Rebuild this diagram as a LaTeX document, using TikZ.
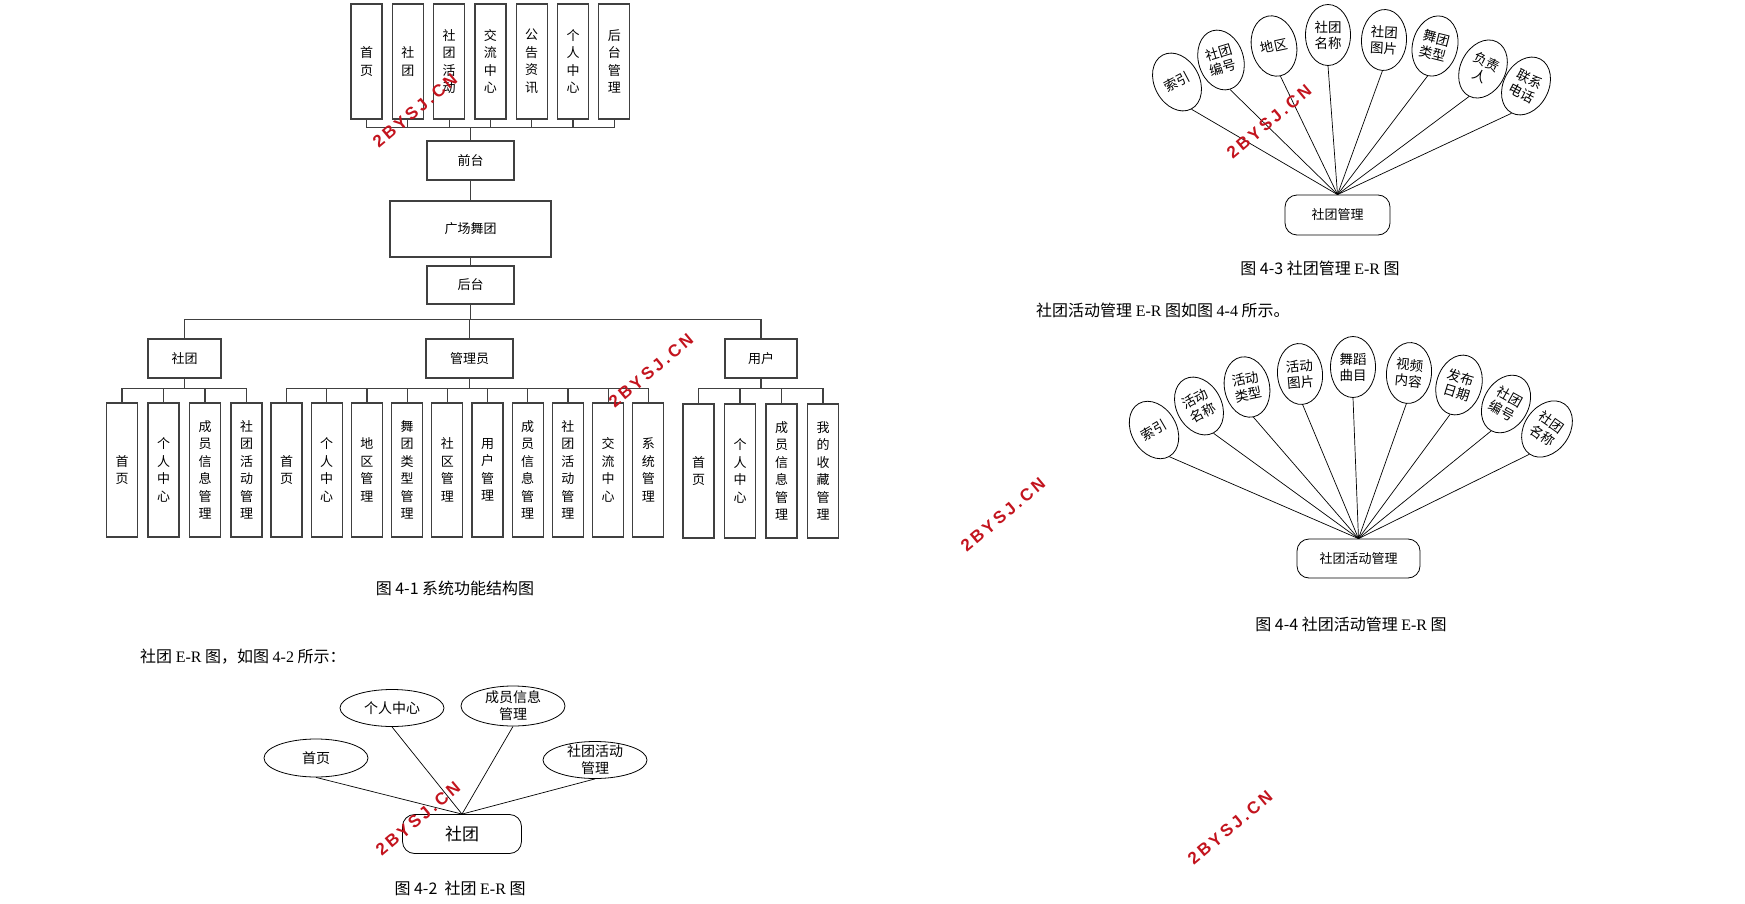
\documentclass[tikz,border=0pt]{standalone}
\usepackage{fontspec}
\usetikzlibrary{shapes.geometric}
\setmainfont{Noto Sans CJK SC}
\newfontfamily\latn{Liberation Serif}
\newfontfamily\wmfont{Liberation Sans}[BoldFont={Liberation Sans Bold}]
\definecolor{wmred}{RGB}{195,20,30}
\newcommand{\wmgap}{\kern3pt\relax}
\newcommand{\wmtext}{2\wmgap B\wmgap Y\wmgap S\wmgap J\wmgap .\wmgap C\wmgap N}

\begin{document}
\begin{tikzpicture}[x=1pt, y=-1pt, font=\fontsize{13}{17.5}\selectfont,
  vbox/.style={draw=black!75, line width=1.2pt, minimum width=31pt, inner sep=0pt, align=center},
  topbox/.style={vbox, minimum height=115pt},
  leafbox/.style={vbox, minimum height=134pt},
  hbox/.style={draw=black!75, line width=1.2pt, minimum width=87pt, minimum height=39pt, inner sep=0pt},
  link/.style={draw=black!75, line width=1.2pt},
  attr/.style={ellipse, draw, line width=0.8pt, minimum width=45pt, minimum height=61pt, inner sep=0pt, align=center, font=\fontsize{13.5}{16}\selectfont},
  flatattr/.style={ellipse, draw, line width=0.8pt, minimum width=104pt, minimum height=38pt, inner xsep=0pt, inner ysep=-6pt, align=center, font=\fontsize{14}{17}\selectfont},
  entity/.style={draw, rounded corners=12pt, line width=0.8pt, minimum height=39pt},
  er/.style={line width=0.7pt},
  caption/.style={font=\fontsize{16}{20}\selectfont, inner sep=0pt},
  wmark/.style={text=wmred, font=\wmfont\bfseries\fontsize{17}{17}\selectfont, rotate=40}]

\useasboundingbox (0,0) rectangle (1745,904);

% ---- system structure chart ----
\node[hbox] (qt) at (470.5,160.5) {前台};
\node[hbox, minimum width=161pt, minimum height=56pt] (gc) at (470.5,229) {广场舞团};
\node[hbox, minimum height=38pt] (ht) at (470.5,285) {后台};
\draw[link] (qt) -- (gc);
\draw[link] (gc) -- (ht);

% front pages
\foreach \lbl [count=\i] in {{首\\页},{社\\团},{社\\团\\活\\动},{交\\流\\中\\心},{公\\告\\资\\讯},{个\\人\\中\\心},{后\\台\\管\\理}}
{
  \node[topbox] (t\i) at ({366.5+41.3*(\i-1)},61.5) {\lbl};
  \draw[link] (t\i.south) -- ++(0,8) -| (qt.north);
}

% back end roles
\node[hbox, minimum width=73pt] (st) at (184.5,358.5) {社团};
\node[hbox] (gly) at (469.5,358.5) {管理员};
\node[hbox, minimum width=72pt] (yh) at (761,358.5) {用户};
\foreach \n in {st,gly,yh}
  \draw[link] (ht.south) -- ++(0,15) -| (\n.north);

\foreach \lbl [count=\i] in {{首\\页},{个\\人\\中\\心},{成\\员\\信\\息\\管\\理},{社\\团\\活\\动\\管\\理}}
{
  \node[leafbox] (s\i) at ({122+41.5*(\i-1)},470) {\lbl};
  \draw[link] (st.south) -- ++(0,10) -| (s\i.north);
}
\foreach \lbl [count=\i] in {{首\\页},{个\\人\\中\\心},{地\\区\\管\\理},{舞\\团\\类\\型\\管\\理},{社\\区\\管\\理},{用\\户\\管\\理},{成\\员\\信\\息\\管\\理},{社\\团\\活\\动\\管\\理},{交\\流\\中\\心},{系\\统\\管\\理}}
{
  \node[leafbox] (m\i) at ({286.5+40.2*(\i-1)},470) {\lbl};
  \draw[link] (gly.south) -- ++(0,10) -| (m\i.north);
}
\foreach \lbl [count=\i] in {{首\\页},{个\\人\\中\\心},{成\\员\\信\\息\\管\\理},{我\\的\\收\\藏\\管\\理}}
{
  \node[leafbox] (u\i) at ({698.5+41.5*(\i-1)},471) {\lbl};
  \draw[link] (yh.south) -- ++(0,10) -| (u\i.north);
}

\node[caption] (cap1) at (455,588) {图 4-1 系统功能结构图};
\node[caption, anchor=west] (txt2) at (140,657) {社团 {\latn E-R} 图，如图 {\latn 4-2} 所示：};

% ---- E-R 4-2 ----
\node[entity, minimum width=119pt, font=\fontsize{17}{20}\selectfont] (club) at (462,834) {社团};
\node[flatattr] (e1) at (316,758) {首页};
\node[flatattr, minimum height=37pt] (e2) at (392,708) {个人中心};
\node[flatattr, minimum height=40pt] (e3) at (513,706) {成员信息\\管理};
\node[flatattr, minimum height=37pt] (e4) at (595,760) {社团活动\\管理};
\foreach \n in {e1,e2,e3,e4}
  \draw[er] (\n.south) -- (club.north);
\node[caption] (cap2) at (460,888) {图 4-2\ \ 社团 {\latn E-R} 图};

% ---- E-R 4-3 ----
\node[entity, minimum width=105pt, minimum height=40pt] (glgl) at (1337.5,215) {社团管理};
\foreach \lbl/\ex/\ey/\ang [count=\i] in {索引/1177/82/28, 社团\\编号/1221/60/17, 地区/1274/46/12, 社团\\名称/1328/35/0, 社团\\图片/1384/40/-3, 舞团\\类型/1435/46/-14, 负责\\人/1483/69/-27, 联系\\电话/1526/86/-28}
{
  \node[attr, rotate=\ang] (c\i) at (\ex,\ey) {\lbl};
  \draw[er] (c\i.south) -- (glgl.north);
}
\node[caption] (cap3) at (1320,268) {图 4-3 社团管理 {\latn E-R} 图};
\node[caption, anchor=west] (txt4) at (1036,310) {社团活动管理 {\latn E-R} 图如图 {\latn 4-4} 所示。};

% ---- E-R 4-4 ----
\node[entity, minimum width=123pt] (hdgl) at (1358.5,558.5) {社团活动管理};
\foreach \lbl/\ex/\ey/\ang [count=\i] in {索引/1154/430/30, 活动\\名称/1199/406/28, 活动\\类型/1247/387/12, 活动\\图片/1300/374/5, 舞蹈\\曲目/1353/367/0, 视频\\内容/1409/373/-5, 发布\\日期/1459/385/-17, 社团\\编号/1506/404/-29, 社团\\名称/1547/429/-35}
{
  \node[attr, rotate=\ang] (h\i) at (\ex,\ey) {\lbl};
  \draw[er] (h\i.south) -- (hdgl.north);
}
\node[caption] (cap4) at (1351,624) {图 4-4 社团活动管理 {\latn E-R} 图};

% watermarks
\node[wmark] (wm1) at (415,111) {\wmtext};
\node[wmark] (wm2) at (651,371) {\wmtext};
\node[wmark] (wm3) at (1269,122) {\wmtext};
\node[wmark] (wm4) at (1003,515) {\wmtext};
\node[wmark] (wm5) at (418,819) {\wmtext};
\node[wmark] (wm6) at (1230,828) {\wmtext};

\end{tikzpicture}
\end{document}
